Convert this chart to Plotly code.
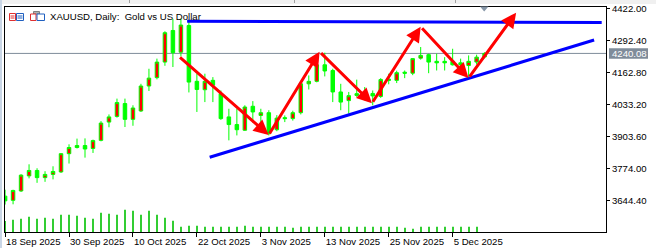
import pandas as pd
import plotly.graph_objects as go

# ---------------- data ----------------
dates = [d.strftime("%Y-%m-%d") for d in pd.bdate_range("2025-09-18", "2025-12-11")]

opens  = [3662, 3645, 3683, 3744, 3766, 3737, 3750, 3760, 3834, 3859,
          3867, 3855, 3888, 3962, 3985, 4037, 3973, 4007, 4108, 4142,
          4205, 4333, 4245, 4353, 4127, 4093, 4131, 4077, 3983, 3952,
          3929, 4026, 3989, 4000, 3931, 3980, 3976, 4000, 4117, 4127,
          4194, 4171, 4084, 4049, 4070, 4081, 4078, 4066, 4136, 4131,
          4164, 4160, 4221, 4235, 4208, 4208, 4208, 4202, 4191, 4205,
          4226]
highs  = [3688, 3688, 3751, 3791, 3775, 3763, 3783, 3836, 3872, 3895,
          3896, 3891, 3966, 3993, 4057, 4057, 4030, 4117, 4178, 4219,
          4330, 4380, 4381, 4375, 4158, 4158, 4144, 4090, 4016, 4016,
          4030, 4047, 4016, 4010, 3990, 3989, 4008, 4124, 4151, 4212,
          4243, 4178, 4117, 4084, 4134, 4104, 4090, 4140, 4158, 4170,
          4171, 4221, 4266, 4239, 4239, 4225, 4259, 4219, 4232, 4235,
          4245]
lows   = [3628, 3629, 3679, 3734, 3716, 3720, 3730, 3756, 3794, 3855,
          3818, 3837, 3884, 3941, 3980, 3942, 3947, 4003, 4088, 4135,
          4190, 4185, 4228, 4082, 4003, 4043, 4043, 3971, 3888, 3908,
          3926, 3960, 3956, 3908, 3925, 3962, 3968, 3993, 4094, 4123,
          4147, 4043, 4010, 3996, 4064, 4050, 4030, 4060, 4115, 4120,
          4140, 4152, 4215, 4160, 4171, 4171, 4191, 4171, 4145, 4195,
          4220]
closes = [3643, 3685, 3747, 3766, 3737, 3750, 3762, 3834, 3859, 3867,
          3853, 3887, 3958, 3983, 4041, 3973, 4019, 4108, 4140, 4205,
          4324, 4243, 4355, 4124, 4094, 4127, 4111, 3976, 3952, 3931,
          4023, 4003, 4000, 3915, 3978, 3976, 4000, 4117, 4127, 4194,
          4169, 4084, 4043, 4069, 4077, 4078, 4068, 4134, 4131, 4162,
          4160, 4219, 4232, 4205, 4202, 4202, 4194, 4194, 4208, 4225,
          4240.08]
volumes = [110000, 123000, 133000, 153000, 133000, 143000, 133000, 173000, 173000, 163000,
           143000, 133000, 193000, 183000, 173000, 223000, 213000, 173000, 213000, 173000,
           143000, 113000, 53000, 63000, 63000, 53000, 53000, 53000, 53000, 53000,
           63000, 53000, 53000, 53000, 53000, 53000, 43000, 53000, 53000, 53000,
           53000, 53000, 53000, 53000, 53000, 53000, 53000, 53000, 53000, 53000,
           43000, 33000, 53000, 53000, 53000, 53000, 53000, 53000, 53000, 53000,
           0]

y_ticks = [4422.00, 4292.40, 4162.80, 4033.20, 3903.60, 3774.00, 3644.40]
last_price = 4240.08

# user drawn objects (bar index, price)
zigzag_x = [21.7, 32.98, 39.35, 45.9, 52.0, 57.98, 63.94]
zigzag_y = [4229.6, 3909.7, 4247.0, 4038.1, 4348.3, 4140.5, 4405.0]
resist_x = [22.78, 74.65]
resist_y = [4370.6, 4364.9]
support_x = [25.6, 73.7]
support_y = [3819.4, 4294.4]

title_text = "XAUUSD, Daily:  Gold vs US Dollar"

# ---------------- figure ----------------
idx = list(range(len(dates)))
tick_idx = idx[::8]
tick_text = [pd.Timestamp(dates[i]).strftime("%-d %b %Y") for i in tick_idx]

W, H = 656, 248
ML, MR, MT, MB = 5, 50, 7, 16
PW, PH = W - ML - MR, H - MT - MB
FONT = "Liberation Sans"
FS = 9.6


def px_x(px):
    return (px - ML) / PW


def px_y(py):
    return (H - MB - py) / PH


fig = go.Figure()
fig.add_trace(go.Bar(x=idx, y=volumes, yaxis="y2", width=0.13,
                     marker=dict(color="#32CD32", line=dict(width=0)),
                     hoverinfo="skip", showlegend=False))
fig.add_trace(go.Candlestick(
    x=idx, open=opens, high=highs, low=lows, close=closes,
    increasing=dict(fillcolor="#FF0000", line=dict(color="#00FF00", width=1)),
    decreasing=dict(fillcolor="#00FF00", line=dict(color="#00FF00", width=1)),
    whiskerwidth=0, showlegend=False))
fig.add_trace(go.Scatter(x=resist_x, y=resist_y, mode="lines",
                         line=dict(color="#0000FF", width=3), showlegend=False))
fig.add_trace(go.Scatter(x=support_x, y=support_y, mode="lines",
                         line=dict(color="#0000FF", width=3), showlegend=False))

annotations = []
for i in range(len(zigzag_x) - 1):
    annotations.append(dict(
        x=zigzag_x[i + 1], y=zigzag_y[i + 1], ax=zigzag_x[i], ay=zigzag_y[i],
        xref="x", yref="y", axref="x", ayref="y", text="", showarrow=True,
        arrowhead=2, arrowsize=1, arrowwidth=3, arrowcolor="#FF0000", standoff=0))

# last price label
annotations.append(dict(x=1, xref="paper", xanchor="left", xshift=4,
                        y=last_price, yref="y", yanchor="middle",
                        text=f"{last_price:.2f}", showarrow=False,
                        font=dict(family=FONT, size=FS, color="white")))

shapes = [
    dict(type="line", xref="paper", yref="y", x0=0, x1=1, y0=last_price, y1=last_price,
         line=dict(color="#7F8C9A", width=1), layer="below"),
    dict(type="rect", xref="paper", yref="paper", x0=px_x(609), x1=px_x(648),
         y0=px_y(58.7), y1=px_y(48.3), fillcolor="#7F8C9A", line=dict(width=0)),
    # window strips
    dict(type="rect", xref="paper", yref="paper", x0=px_x(0), x1=px_x(656),
         y0=px_y(4), y1=px_y(0), fillcolor="#F0F0F0", line=dict(width=0)),
    dict(type="rect", xref="paper", yref="paper", x0=px_x(0), x1=px_x(2),
         y0=px_y(248), y1=px_y(0), fillcolor="#C9D6E6", line=dict(width=0)),
    # shift marker
    dict(type="path", xref="paper", yref="paper",
         path=f"M {px_x(480)},{px_y(6.5)} L {px_x(488.5)},{px_y(6.5)} L {px_x(484.2)},{px_y(11.5)} Z",
         fillcolor="#8595A6", line=dict(width=0)),
]
for tx in [129, 294, 455]:
    shapes.append(dict(type="line", xref="paper", yref="paper", x0=px_x(tx + 0.5), x1=px_x(tx + 0.5),
                       y0=px_y(3), y1=px_y(0), line=dict(color="#A0A0A0", width=1)))

# header icons
def icon_box(x0, x1, y0, y1, color):
    out = [dict(type="rect", xref="paper", yref="paper", x0=px_x(x0), x1=px_x(x1),
                y0=px_y(y1), y1=px_y(y0), fillcolor="white", line=dict(color=color, width=1))]
    for yy in [y0 + 2.5, y0 + 4.5]:
        out.append(dict(type="line", xref="paper", yref="paper", x0=px_x(x0 + 1), x1=px_x(x1 - 1),
                        y0=px_y(yy), y1=px_y(yy), line=dict(color=color, width=1)))
    return out

shapes += icon_box(9.5, 15.5, 13.5, 20.5, "#E03030")
shapes += icon_box(16.5, 23.5, 13.5, 20.5, "#2060C0")
shapes.append(dict(type="rect", xref="paper", yref="paper", x0=px_x(33.5), x1=px_x(39.5),
                   y0=px_y(14), y1=px_y(11.5), fillcolor="#B0B0B0", line=dict(color="#808080", width=1)))
shapes.append(dict(type="rect", xref="paper", yref="paper", x0=px_x(30.5), x1=px_x(36),
                   y0=px_y(20.5), y1=px_y(14), fillcolor="white", line=dict(color="#E03030", width=1)))
shapes.append(dict(type="rect", xref="paper", yref="paper", x0=px_x(37), x1=px_x(44.5),
                   y0=px_y(20.5), y1=px_y(14), fillcolor="white", line=dict(color="#2060C0", width=1)))

fig.update_layout(
    width=W, height=H, margin=dict(l=ML, r=MR, t=MT, b=MB, pad=0),
    template="none", paper_bgcolor="white", plot_bgcolor="white",
    showlegend=False, boxgap=0.375,
    title=dict(text=title_text, x=50 / W, xanchor="left", xref="container",
               y=1 - 16.5 / H, yanchor="middle", yref="container",
               font=dict(family=FONT, size=FS, color="black")),
    xaxis=dict(range=[-0.01, (W - MR - 4.5) / 8], tickmode="array",
               tickvals=tick_idx, ticktext=tick_text, ticks="outside", ticklen=4,
               tickcolor="black", ticklabelposition="outside right",
               showline=True, linecolor="black", linewidth=1, mirror=True,
               showgrid=False, zeroline=False, rangeslider=dict(visible=False),
               automargin=False, tickfont=dict(family=FONT, size=FS, color="black")),
    yaxis=dict(side="right", range=[3516.8, 4428.1], tickmode="array",
               tickvals=y_ticks, ticktext=[f"{v:.2f}" for v in y_ticks],
               ticks="outside", ticklen=3, tickcolor="black",
               showline=True, linecolor="black", linewidth=1, mirror=True,
               showgrid=False, zeroline=False, automargin=False,
               tickfont=dict(family=FONT, size=FS, color="black")),
    yaxis2=dict(overlaying="y", range=[0, PH * 10000], visible=False, fixedrange=True),
    annotations=annotations, shapes=shapes,
)

fig.write_html("out.html")
